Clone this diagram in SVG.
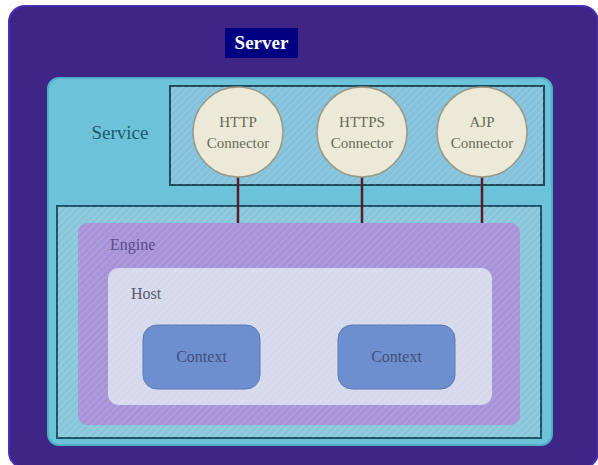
<svg xmlns="http://www.w3.org/2000/svg" width="598" height="465" viewBox="0 0 598 465">
<defs>
<style>
.lbl{font-family:"Liberation Serif","Times New Roman",serif;}
.conn text{font-size:15px;fill:#6a6a5a;text-anchor:middle;}
.circ{fill:#ece9d8;stroke:#9a9a88;stroke-width:1.5;}
.ctx{fill:#6d8fcf;stroke:#5a7ab5;stroke-width:1;}
.ctx-t{font-size:16px;fill:#44507a;text-anchor:middle;}
.link{stroke:#5a1a2a;stroke-width:2.5;}
</style>
<pattern id="hatch" width="5" height="5" patternUnits="userSpaceOnUse" patternTransform="rotate(45)">
<line x1="0" y1="0" x2="0" y2="5" stroke="#ffffff" stroke-opacity="0.15" stroke-width="2"/>
</pattern>
</defs>
<rect width="598" height="465" fill="#ffffff"/>
<g id="server">
<rect x="9" y="6" width="589" height="462" rx="16" fill="#3e2586" stroke="#4a2db0" stroke-width="2"/>
<rect x="225" y="28" width="73" height="30" fill="#000080"/>
<text class="lbl" x="261.5" y="49" font-size="19" font-weight="bold" fill="#ffffff" text-anchor="middle">Server</text>
</g>
<g id="service">
<rect x="48" y="78" width="504" height="367" rx="11" fill="#6cc3d9" stroke="#4fb0c4" stroke-width="2"/>
<text class="lbl" x="120" y="139" font-size="19" fill="#1d5a70" text-anchor="middle">Service</text>
<rect x="57" y="206" width="484" height="232" fill="#88c7db" stroke="#1f5466" stroke-width="2"/>
<rect x="57" y="206" width="484" height="232" fill="url(#hatch)"/>
<rect x="170" y="86" width="374" height="99" fill="#84c2dc" stroke="#1f4a5a" stroke-width="2"/>
<rect x="170" y="86" width="374" height="99" fill="url(#hatch)"/>
</g>
<g id="connectors">
<line class="link" x1="238" y1="177" x2="238" y2="224"/>
<line class="link" x1="362" y1="177" x2="362" y2="224"/>
<line class="link" x1="482" y1="177" x2="482" y2="224"/>
</g>
<g id="http" class="conn">
<circle class="circ" cx="238" cy="132" r="45"/>
<text class="lbl" x="238" y="127">HTTP</text>
<text class="lbl" x="238" y="148">Connector</text>
</g>
<g id="https" class="conn">
<circle class="circ" cx="362" cy="132" r="45"/>
<text class="lbl" x="362" y="127">HTTPS</text>
<text class="lbl" x="362" y="148">Connector</text>
</g>
<g id="ajp" class="conn">
<circle class="circ" cx="482" cy="132" r="45"/>
<text class="lbl" x="482" y="127">AJP</text>
<text class="lbl" x="482" y="148">Connector</text>
</g>
<g id="engine">
<rect x="78" y="223" width="442" height="202" rx="9" fill="#a794d8"/>
<rect x="78" y="223" width="442" height="202" rx="9" fill="url(#hatch)"/>
<text class="lbl" x="110" y="250" font-size="16" fill="#5a4a8a">Engine</text>
</g>
<g id="host">
<rect x="108" y="268" width="384" height="137" rx="11" fill="#d6d9ec"/>
<rect x="108" y="268" width="384" height="137" rx="11" fill="url(#hatch)"/>
<text class="lbl" x="131" y="299" font-size="16" fill="#5a5a6a">Host</text>
</g>
<g id="context1">
<rect class="ctx" x="143" y="325" width="117" height="64" rx="14"/>
<text class="lbl ctx-t" x="201.5" y="362">Context</text>
</g>
<g id="context2">
<rect class="ctx" x="338" y="325" width="117" height="64" rx="14"/>
<text class="lbl ctx-t" x="396.5" y="362">Context</text>
</g>
</svg>
